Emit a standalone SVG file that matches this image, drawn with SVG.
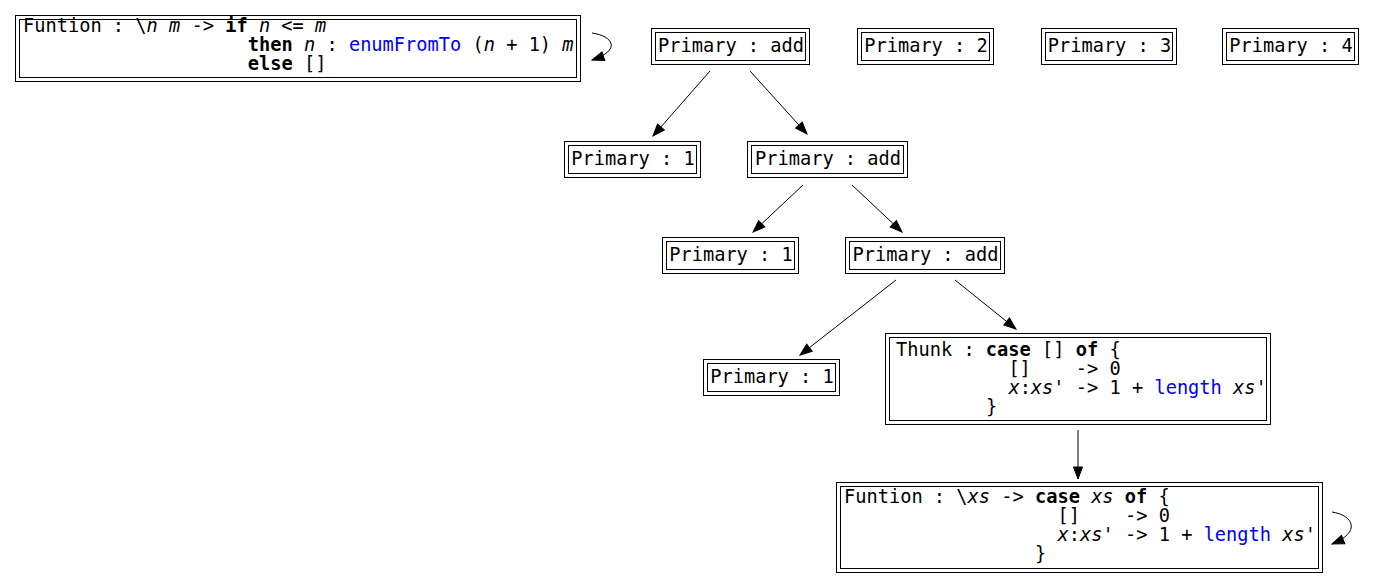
<svg xmlns="http://www.w3.org/2000/svg" width="1375" height="584" viewBox="0 0 1375 584">
<style>
.bg{fill:#ffffff}
.box{fill:none;stroke:#000;stroke-width:1}
.t{font-family:"DejaVu Sans Mono","Liberation Mono",monospace;font-size:18.67px;fill:#000;white-space:pre}
.c{text-anchor:middle}
.b{font-weight:bold}
.i{font-style:italic}
.k{fill:#0000ff}
.e{fill:none;stroke:#000;stroke-width:1}
</style>
<defs>
<marker id="ah" markerUnits="userSpaceOnUse" markerWidth="14" markerHeight="11" refX="12" refY="4.5" orient="auto" overflow="visible">
<path d="M0,0 L12,4.5 L0,9 Z" fill="#000" stroke="#000" stroke-width="1"/>
</marker>
</defs>
<rect class="bg" x="0" y="0" width="1375" height="584"/>

<g id="n_fun_top">
<rect class="box" x="15.5" y="15.5" width="565" height="66"/>
<rect class="box" x="19.5" y="19.5" width="557" height="58"/>
<text class="t" x="23" y="31.5" xml:space="preserve">Funtion : \<tspan class="i">n</tspan> <tspan class="i">m</tspan> -&gt; <tspan class="b">if</tspan> <tspan class="i">n</tspan> &lt;= <tspan class="i">m</tspan></text>
<text class="t" x="247.8" y="50.5" xml:space="preserve"><tspan class="b">then</tspan> <tspan class="i">n</tspan> : <tspan class="k">enumFromTo</tspan> (<tspan class="i">n</tspan> + 1) <tspan class="i">m</tspan></text>
<text class="t" x="247.8" y="69.5" xml:space="preserve"><tspan class="b">else</tspan> []</text>
</g>

<g id="n_add0">
<rect class="box" x="651.5" y="28.5" width="158" height="36"/>
<rect class="box" x="655.5" y="32.5" width="150" height="28"/>
<text class="t c" x="731" y="52">Primary : add</text>
</g>
<g id="n_p2">
<rect class="box" x="857.5" y="28.5" width="136" height="36"/>
<rect class="box" x="861.5" y="32.5" width="128" height="28"/>
<text class="t c" x="926" y="52">Primary : 2</text>
</g>
<g id="n_p3">
<rect class="box" x="1041.5" y="28.5" width="135" height="36"/>
<rect class="box" x="1045.5" y="32.5" width="127" height="28"/>
<text class="t c" x="1109.5" y="52">Primary : 3</text>
</g>
<g id="n_p4">
<rect class="box" x="1222.5" y="28.5" width="136" height="36"/>
<rect class="box" x="1226.5" y="32.5" width="128" height="28"/>
<text class="t c" x="1291" y="52">Primary : 4</text>
</g>

<g id="n_p1a">
<rect class="box" x="564.5" y="141.5" width="136" height="36"/>
<rect class="box" x="568.5" y="145.5" width="128" height="28"/>
<text class="t c" x="633" y="165">Primary : 1</text>
</g>
<g id="n_add1">
<rect class="box" x="747.5" y="141.5" width="160" height="36"/>
<rect class="box" x="751.5" y="145.5" width="152" height="28"/>
<text class="t c" x="828" y="165">Primary : add</text>
</g>

<g id="n_p1b">
<rect class="box" x="662.5" y="237.5" width="136" height="36"/>
<rect class="box" x="666.5" y="241.5" width="128" height="28"/>
<text class="t c" x="731" y="261">Primary : 1</text>
</g>
<g id="n_add2">
<rect class="box" x="845.5" y="237.5" width="159" height="36"/>
<rect class="box" x="849.5" y="241.5" width="151" height="28"/>
<text class="t c" x="925.5" y="261">Primary : add</text>
</g>

<g id="n_p1c">
<rect class="box" x="703.5" y="359.5" width="136" height="36"/>
<rect class="box" x="707.5" y="363.5" width="128" height="28"/>
<text class="t c" x="772" y="383">Primary : 1</text>
</g>

<g id="n_thunk">
<rect class="box" x="885.5" y="333.5" width="385" height="91"/>
<rect class="box" x="889.5" y="337.5" width="377" height="83"/>
<text class="t" x="896" y="356" xml:space="preserve">Thunk : <tspan class="b">case</tspan> [] <tspan class="b">of</tspan> {</text>
<text class="t" x="1008.4" y="375" xml:space="preserve">[]    -&gt; 0</text>
<text class="t" x="1008.4" y="394" xml:space="preserve"><tspan class="i">x</tspan>:<tspan class="i">xs</tspan>' -&gt; 1 + <tspan class="k">length</tspan> <tspan class="i">xs</tspan>'</text>
<text class="t" x="985.9" y="413" xml:space="preserve">}</text>
</g>

<g id="n_fun_bot">
<rect class="box" x="836.5" y="482.5" width="486" height="90"/>
<rect class="box" x="840.5" y="486.5" width="478" height="82"/>
<text class="t" x="844" y="503" xml:space="preserve">Funtion : \<tspan class="i">xs</tspan> -&gt; <tspan class="b">case</tspan> <tspan class="i">xs</tspan> <tspan class="b">of</tspan> {</text>
<text class="t" x="1057.6" y="522" xml:space="preserve">[]    -&gt; 0</text>
<text class="t" x="1057.6" y="541" xml:space="preserve"><tspan class="i">x</tspan>:<tspan class="i">xs</tspan>' -&gt; 1 + <tspan class="k">length</tspan> <tspan class="i">xs</tspan>'</text>
<text class="t" x="1035" y="560" xml:space="preserve">}</text>
</g>

<g id="edges">
<path class="e" d="M592,33 C613,36 622,50 592,60" marker-end="url(#ah)"/>
<path class="e" d="M710,71 L653,136" marker-end="url(#ah)"/>
<path class="e" d="M750,71 L807,134" marker-end="url(#ah)"/>
<path class="e" d="M803,185 L753,232" marker-end="url(#ah)"/>
<path class="e" d="M852,185 L902,232" marker-end="url(#ah)"/>
<path class="e" d="M896,280 L800,355" marker-end="url(#ah)"/>
<path class="e" d="M955,280 L1016,329" marker-end="url(#ah)"/>
<path class="e" d="M1078,430 L1078,479" marker-end="url(#ah)"/>
<path class="e" d="M1332,512 C1353,515 1362,532 1332,544" marker-end="url(#ah)"/>
</g>
</svg>
